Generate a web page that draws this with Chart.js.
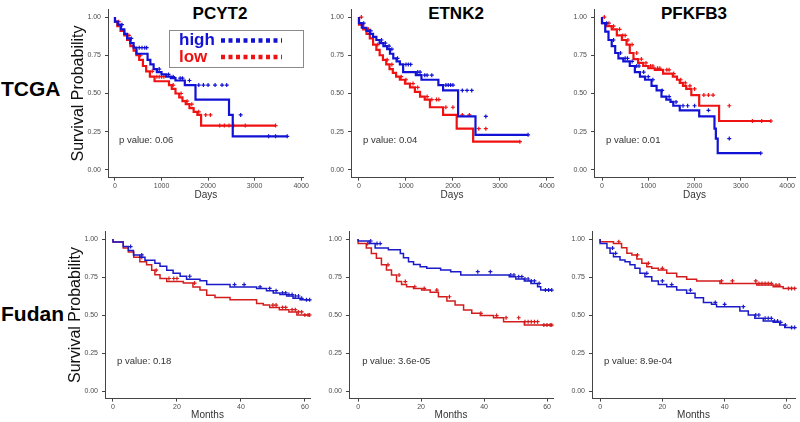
<!DOCTYPE html>
<html>
<head>
<meta charset="utf-8">
<script src="https://cdn.jsdelivr.net/npm/chart.js@4.4.1/dist/chart.umd.min.js"></script>
<style>
  body { margin: 0; background: #fff; width: 800px; height: 422px; position: relative; overflow: hidden;
         font-family: "Liberation Sans", Arial, sans-serif; }
  canvas { position: absolute; }
  .lbl { position: absolute; font-weight: bold; color: #000; white-space: nowrap; }
  .gene { width: 100px; text-align: center; font-size: 17px; line-height: 20px; top: 4px; }
  .cohort { left: 1px; font-size: 21px; line-height: 24px; }
</style>
</head>
<body>
<script>
// labels
const genes = ['PCYT2', 'ETNK2', 'PFKFB3'];
const cohorts = ['TCGA', 'Fudan'];
const groupNames = ['high', 'low'];
const pValues = [['0.06', '0.04', '0.01'], ['0.18', '3.6e-05', '8.9e-04']];
const dayTicks = [0, 1000, 2000, 3000, 4000];
const monthTicks = [0, 20, 40, 60];
const survTicks = [0, 0.25, 0.5, 0.75, 1];

// KM curves: T = event times, S = survival after the step, C = censor times
const tcgaPcyt2HighT = [0, 60, 130, 200, 260, 330, 400, 460, 700, 760, 830, 900, 1000, 1100, 1200, 1300, 1500, 1730, 2450, 2530, 3130];
const tcgaPcyt2HighS = [1, 0.97, 0.95, 0.92, 0.89, 0.86, 0.83, 0.80, 0.76, 0.72, 0.69, 0.66, 0.64, 0.625, 0.61, 0.60, 0.585, 0.555, 0.46, 0.36, 0.22];
const tcgaPcyt2HighC = [150, 350, 520, 580, 640, 680, 950, 1150, 1250, 1400, 1450, 1600, 1800, 1900, 2000, 2150, 2300, 2400, 2700, 3300, 3450, 3700];
const tcgaPcyt2LowT = [0, 50, 120, 200, 260, 330, 400, 460, 520, 600, 670, 750, 850, 1160, 1220, 1300, 1380, 1450, 1520, 1600, 1690, 1770, 1850, 2115];
const tcgaPcyt2LowS = [1, 0.97, 0.94, 0.91, 0.88, 0.85, 0.81, 0.78, 0.75, 0.72, 0.68, 0.645, 0.61, 0.58, 0.555, 0.53, 0.50, 0.475, 0.45, 0.43, 0.405, 0.38, 0.36, 0.29];
const tcgaPcyt2LowC = [80, 300, 550, 800, 900, 950, 1000, 1050, 1250, 1420, 1550, 1650, 1800, 1950, 2050, 2250, 2350, 2450, 2550, 2800, 3450];

const tcgaEtnk2HighT = [0, 60, 160, 230, 300, 370, 440, 520, 600, 660, 730, 800, 870, 940, 1210, 1330, 1690, 1790, 2110, 2480, 3035];
const tcgaEtnk2HighS = [1, 0.96, 0.93, 0.91, 0.89, 0.87, 0.85, 0.83, 0.81, 0.79, 0.76, 0.73, 0.71, 0.69, 0.64, 0.62, 0.59, 0.555, 0.52, 0.35, 0.23];
const tcgaEtnk2HighC = [100, 250, 480, 560, 640, 700, 820, 1000, 1050, 1100, 1250, 1300, 1400, 1450, 1550, 1850, 1900, 1950, 2000, 2200, 2300, 2400, 2700, 3600];
const tcgaEtnk2LowT = [0, 90, 160, 230, 300, 370, 440, 510, 580, 650, 720, 790, 870, 980, 1085, 1190, 1300, 1400, 1510, 1790, 2080, 2430, 3175];
const tcgaEtnk2LowS = [1, 0.95, 0.92, 0.89, 0.86, 0.82, 0.785, 0.75, 0.72, 0.69, 0.66, 0.635, 0.61, 0.59, 0.565, 0.54, 0.51, 0.48, 0.46, 0.41, 0.36, 0.27, 0.185];
const tcgaEtnk2LowC = [50, 200, 400, 600, 700, 900, 1000, 1150, 1250, 1450, 1550, 1650, 1700, 1850, 2000, 2200, 2350, 2550, 2700, 3425];

const tcgaPfkfb3HighT = [0, 70, 140, 210, 285, 355, 460, 600, 710, 820, 930, 1070, 1180, 1285, 1390, 1480, 1540, 1680, 2100, 2430, 2460, 2500, 3210];
const tcgaPfkfb3HighS = [1, 0.96, 0.905, 0.85, 0.81, 0.765, 0.73, 0.71, 0.68, 0.64, 0.61, 0.59, 0.55, 0.52, 0.48, 0.46, 0.445, 0.42, 0.39, 0.35, 0.27, 0.205, 0.11];
const tcgaPfkfb3HighC = [100, 250, 400, 500, 550, 650, 750, 800, 900, 1000, 1100, 1300, 1450, 1600, 1750, 1850, 2000, 2300, 2750, 3430];
const tcgaPfkfb3LowT = [0, 100, 210, 320, 430, 530, 600, 680, 780, 890, 1000, 1140, 1320, 1530, 1620, 1680, 1750, 1820, 1930, 2100, 2530, 3100];
const tcgaPfkfb3LowS = [1, 0.96, 0.94, 0.92, 0.88, 0.85, 0.82, 0.765, 0.725, 0.70, 0.68, 0.665, 0.655, 0.63, 0.61, 0.59, 0.57, 0.55, 0.53, 0.49, 0.42, 0.32];
const tcgaPfkfb3LowC = [50, 150, 250, 380, 450, 500, 560, 650, 750, 850, 950, 1050, 1100, 1200, 1250, 1400, 1450, 1550, 1700, 1800, 1900, 2000, 2200, 2300, 2400, 2750, 3250, 3450, 3650];

const fudanPcyt2HighT = [0, 3.2, 4.8, 6.4, 8.4, 10, 13.1, 14.7, 16.8, 18.8, 21, 23, 27.2, 29.3, 36.6, 44.9, 48, 50.1, 52.2, 54.3, 56.3, 58.5, 60];
const fudanPcyt2HighS = [1, 0.98, 0.95, 0.925, 0.895, 0.88, 0.86, 0.84, 0.82, 0.795, 0.775, 0.755, 0.735, 0.725, 0.70, 0.685, 0.675, 0.66, 0.645, 0.635, 0.625, 0.61, 0.60];
const fudanPcyt2HighC = [5.5, 9, 24, 38, 41, 46, 49, 51, 53, 54, 55, 56, 57, 58, 59, 60.5, 61.5];
const fudanPcyt2LowT = [0, 3.2, 4.8, 6.5, 8.4, 10.5, 12.1, 13.1, 14.7, 16.8, 22, 25, 27.2, 29.3, 31.9, 36.6, 44.9, 47, 49, 52, 55, 57.5, 59.5];
const fudanPcyt2LowS = [1, 0.98, 0.94, 0.915, 0.88, 0.85, 0.83, 0.795, 0.765, 0.74, 0.72, 0.71, 0.685, 0.665, 0.63, 0.615, 0.60, 0.575, 0.565, 0.55, 0.535, 0.52, 0.50];
const fudanPcyt2LowC = [9, 13.5, 17.5, 19, 20, 25.5, 50, 51, 53, 54, 56, 57, 58, 59, 60, 61, 61.5];

const fudanEtnk2HighT = [0, 3.5, 5.4, 9.6, 13.4, 14.4, 16, 17.6, 19.7, 21.8, 26.2, 29.4, 32.6, 48, 50.1, 52.8, 54.9, 57, 58, 59.1];
const fudanEtnk2HighS = [1, 0.987, 0.97, 0.94, 0.93, 0.905, 0.877, 0.85, 0.833, 0.818, 0.807, 0.796, 0.785, 0.763, 0.752, 0.737, 0.724, 0.708, 0.686, 0.664];
const fudanEtnk2HighC = [4, 6, 7, 38, 42, 48.5, 49.5, 51, 52, 53, 54, 55, 56, 57.5, 59.5, 60.5, 61.5];
const fudanEtnk2LowT = [0, 2.6, 4.2, 5.8, 7.4, 9, 10.6, 12.2, 13.8, 15.4, 17.6, 20.2, 22.9, 25.5, 28.2, 30.8, 33.5, 36.1, 38.8, 43, 46.2, 52.8, 58];
const fudanEtnk2LowS = [1, 0.97, 0.94, 0.905, 0.873, 0.83, 0.796, 0.763, 0.72, 0.70, 0.686, 0.675, 0.664, 0.649, 0.62, 0.592, 0.566, 0.533, 0.511, 0.496, 0.482, 0.456, 0.434];
const fudanEtnk2LowC = [3, 9.5, 13, 15, 18, 21, 25, 29, 39, 44, 47, 51, 53, 54, 55, 56, 57, 59, 60, 61, 61.5];

const fudanPfkfb3HighT = [0, 2.2, 3.2, 4.3, 6.4, 8, 9.6, 11.2, 12.8, 14.4, 16.6, 18.7, 21.4, 24.6, 27.8, 30.5, 33.2, 35.8, 37.4, 44.9, 47.6, 49.7, 52.4, 55.6, 57.7, 59.3, 60.9];
const fudanPfkfb3HighS = [1, 0.97, 0.94, 0.906, 0.884, 0.862, 0.851, 0.83, 0.807, 0.774, 0.752, 0.724, 0.70, 0.686, 0.664, 0.643, 0.614, 0.583, 0.57, 0.555, 0.526, 0.50, 0.478, 0.46, 0.452, 0.434, 0.417];
const fudanPfkfb3HighC = [4, 5, 15, 20, 23, 29, 37, 40, 46, 50, 51, 53, 54, 55, 56, 57, 58, 59.5, 61.5, 62.5];
const fudanPfkfb3LowT = [0, 4.3, 6.9, 8.6, 10.2, 11.8, 13.4, 15, 16.6, 18.7, 21.4, 24.6, 27.8, 31, 38.5, 50.3, 55.6, 58.8, 59.9];
const fudanPfkfb3LowS = [1, 0.982, 0.97, 0.943, 0.906, 0.895, 0.868, 0.84, 0.818, 0.807, 0.796, 0.774, 0.752, 0.735, 0.724, 0.708, 0.697, 0.686, 0.675];
const fudanPfkfb3LowC = [6, 12, 15.5, 20, 39, 42.5, 50, 51, 52, 53, 54, 55, 56.5, 57.5, 60.5, 61.5, 62.5];

// colours per row: [high, low]
const rowColors = [['#1212d4', '#ee1212'], ['#1a1ac8', '#d41c1c']];
const font = '"Liberation Sans", Arial, sans-serif';

// page layout of the 2 x 3 grid
const rows = [
  { top: 0, h: 202, areaTop: 9.4, areaBottom: 177.6, lineW: 2.2 },
  { top: 222, h: 200, areaTop: 231.4, areaBottom: 398.6, lineW: 1.5 }
];
const cols = [
  [{ l: 108, r: 307, min: -150, max: 4060 }, { l: 351, r: 553, min: -170, max: 4130 }, { l: 594, r: 795, min: -173, max: 4170 }],
  [{ l: 105, r: 310, min: -2.5, max: 61.6 }, { l: 349, r: 553, min: -2.9, max: 61.9 }, { l: 592, r: 795, min: -2.6, max: 62.6 }]
];
const titleX = [220, 456, 694];
const cohortY = [89, 314];

const curves = [
  [
    [[tcgaPcyt2HighT, tcgaPcyt2HighS, tcgaPcyt2HighC], [tcgaPcyt2LowT, tcgaPcyt2LowS, tcgaPcyt2LowC]],
    [[tcgaEtnk2HighT, tcgaEtnk2HighS, tcgaEtnk2HighC], [tcgaEtnk2LowT, tcgaEtnk2LowS, tcgaEtnk2LowC]],
    [[tcgaPfkfb3HighT, tcgaPfkfb3HighS, tcgaPfkfb3HighC], [tcgaPfkfb3LowT, tcgaPfkfb3LowS, tcgaPfkfb3LowC]]
  ],
  [
    [[fudanPcyt2HighT, fudanPcyt2HighS, fudanPcyt2HighC], [fudanPcyt2LowT, fudanPcyt2LowS, fudanPcyt2LowC]],
    [[fudanEtnk2HighT, fudanEtnk2HighS, fudanEtnk2HighC], [fudanEtnk2LowT, fudanEtnk2LowS, fudanEtnk2LowC]],
    [[fudanPfkfb3HighT, fudanPfkfb3HighS, fudanPfkfb3HighC], [fudanPfkfb3LowT, fudanPfkfb3LowS, fudanPfkfb3LowC]]
  ]
];

function survAt(T, S, t) {
  let s = S[0];
  for (let i = 0; i < T.length; i++) if (T[i] <= t) s = S[i];
  return s;
}

function addLabel(text, cls, style) {
  const d = document.createElement('div');
  d.className = 'lbl ' + cls;
  d.textContent = text;
  Object.assign(d.style, style);
  document.body.appendChild(d);
}

// p value text, bottom-left of each panel
const pLabel = {
  id: 'pLabel',
  afterDatasetsDraw(chart, args, opts) {
    const ctx = chart.ctx;
    ctx.save();
    ctx.font = '9.5px ' + font;
    ctx.fillStyle = '#333';
    ctx.textBaseline = 'middle';
    ctx.fillText('p value: ' + opts.text, chart.scales.x.getPixelForValue(0) + 4, chart.scales.y.getPixelForValue(0.195));
    ctx.restore();
  }
};

// legend box for the first panel
const legendBox = {
  id: 'legendBox',
  afterDraw(chart, args, opts) {
    if (!opts.show) return;
    const ctx = chart.ctx;
    const a = chart.chartArea;
    const x0 = a.left + 61, y0 = a.top + 20.6;
    ctx.save();
    ctx.strokeStyle = '#8a8a8a';
    ctx.lineWidth = 1;
    ctx.strokeRect(x0 + 0.5, y0 + 0.5, 134, 37);
    [[groupNames[0], rowColors[0][0], 10.5], [groupNames[1], rowColors[0][1], 27]].forEach(([name, col, dy]) => {
      ctx.fillStyle = col;
      ctx.font = 'bold 17px ' + font;
      ctx.textBaseline = 'middle';
      ctx.fillText(name, x0 + 10, y0 + dy);
      ctx.strokeStyle = col;
      ctx.lineWidth = 4.5;
      ctx.setLineDash([4, 3.5]);
      ctx.beginPath();
      ctx.moveTo(x0 + 52, y0 + dy);
      ctx.lineTo(x0 + 113, y0 + dy);
      ctx.stroke();
      ctx.setLineDash([]);
    });
    ctx.restore();
  }
};

cohorts.forEach((cohort, r) => {
  addLabel(cohort, 'cohort', { top: (cohortY[r] - 12) + 'px' });
});
genes.forEach((g, c) => {
  addLabel(g, 'gene', { left: (titleX[c] - 50) + 'px' });
});

cohorts.forEach((cohort, r) => {
  const row = rows[r];
  genes.forEach((gene, c) => {
    const col = cols[r][c];
    const cv = document.createElement('canvas');
    const left = col.l - 48;
    cv.width = col.r + 3 - left;
    cv.height = row.h;
    cv.style.left = left + 'px';
    cv.style.top = row.top + 'px';
    document.body.appendChild(cv);

    const datasets = [];
    curves[r][c].forEach(([T, S, C], k) => {
      const color = rowColors[r][k];
      const pts = T.map((t, i) => ({ x: t, y: S[i] }));
      pts.push({ x: Math.max(T[T.length - 1], C[C.length - 1]), y: S[S.length - 1] });
      datasets.push({ data: pts, showLine: true, stepped: 'after', borderColor: color, borderWidth: row.lineW, pointRadius: 0, fill: false });
      datasets.push({ data: C.map(t => ({ x: t, y: survAt(T, S, t) })), showLine: false, pointStyle: 'cross',
                      pointRadius: 2, borderColor: color, borderWidth: 1.2, clip: false });
    });

    const xTicks = r === 0 ? dayTicks : monthTicks;
    new Chart(cv, {
      type: 'scatter',
      data: { datasets },
      plugins: [pLabel, legendBox],
      options: {
        responsive: false,
        animation: false,
        layout: { autoPadding: false, padding: { top: row.areaTop - row.top, right: 3, left: 0, bottom: 0 } },
        plugins: {
          legend: { display: false },
          tooltip: { enabled: false },
          pLabel: { text: pValues[r][c] },
          legendBox: { show: r === 0 && c === 0 }
        },
        scales: {
          x: {
            type: 'linear', min: col.min, max: col.max,
            afterBuildTicks: s => { s.ticks = xTicks.map(v => ({ value: v })); },
            afterFit: s => { s.height = row.top + row.h - row.areaBottom; },
            grid: { drawOnChartArea: false, drawTicks: true, tickLength: 3, color: '#444' },
            border: { color: '#444', width: 1 },
            ticks: { font: { size: 7, family: font }, color: '#4d4d4d', padding: 1, maxRotation: 0, autoSkip: false,
                     callback: v => String(v) },
            title: { display: true, text: r === 0 ? 'Days' : 'Months', font: { size: 10, family: font }, color: '#333', padding: { top: 0, bottom: 1 } }
          },
          y: {
            type: 'linear', min: -0.05, max: 1.05,
            afterBuildTicks: s => { s.ticks = survTicks.map(v => ({ value: v })); },
            afterFit: s => { s.width = 48; },
            grid: { drawOnChartArea: false, drawTicks: true, tickLength: 3, color: '#444' },
            border: { color: '#444', width: 1 },
            ticks: { font: { size: 7, family: font }, color: '#4d4d4d', padding: 4, callback: v => v.toFixed(2) },
            title: { display: c === 0, text: 'Survival Probability', font: { size: 16, family: font }, color: '#111', padding: { top: 9, bottom: 0 } }
          }
        }
      }
    });
  });
});
</script>
</body>
</html>
